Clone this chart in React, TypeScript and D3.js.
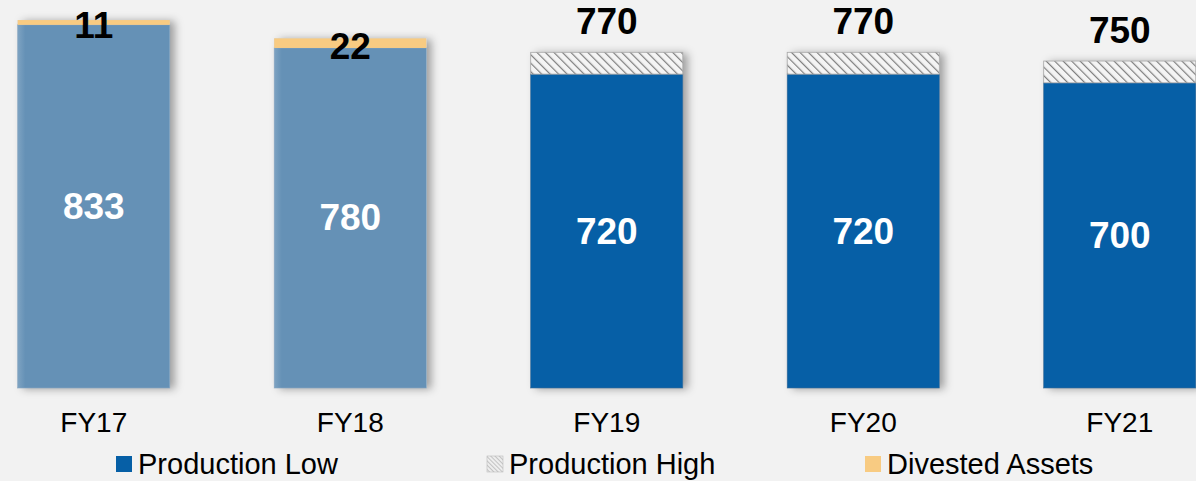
import React from "react";
import * as d3 from "d3";

const categories = ["FY17", "FY18", "FY19", "FY20", "FY21"];
const productionLow = [833, 780, 720, 720, 700];
const productionHigh = [0, 0, 50, 50, 50];
const divested = [11, 22, 0, 0, 0];
const actual = [true, true, false, false, false];
const legendLabels = ["Production Low", "Production High", "Divested Assets"];

const W = 1196;
const H = 481;

export default function App() {
  const x = d3
    .scaleBand<string>()
    .domain(categories)
    .range([-34.5, 1248])
    .paddingInner(0.407)
    .paddingOuter(0.2035);
  const y = d3.scaleLinear().domain([0, 890]).range([388, 0]);
  const bw = x.bandwidth();

  const legendX = [116, 487, 865];

  return (
    <svg
      width={W}
      height={H}
      style={{ position: "absolute", left: 0, top: 0, background: "#f2f2f2" }}
      fontFamily="Arial, 'Liberation Sans', sans-serif"
    >
      <defs>
        <filter id="sh" x="-10%" y="-10%" width="130%" height="120%">
          <feDropShadow dx="5" dy="1" stdDeviation="4" floodColor="#000" floodOpacity="0.35" />
        </filter>
        <pattern id="hatch" width="6" height="6" patternUnits="userSpaceOnUse" patternTransform="rotate(-45)">
          <rect width="6" height="6" fill="#f4f4f4" />
          <line x1="0" y1="0" x2="0" y2="6" stroke="#7e7e7e" strokeWidth="2.4" />
        </pattern>
        <pattern id="hatchS" width="3" height="3" patternUnits="userSpaceOnUse" patternTransform="rotate(-45)">
          <rect width="3" height="3" fill="#eeeeee" />
          <line x1="0" y1="0" x2="0" y2="3" stroke="#999" strokeWidth="1" />
        </pattern>
        <linearGradient id="lg" x1="0" x2="1" y1="0" y2="0">
          <stop offset="0" stopColor="#7ea3c2" />
          <stop offset="0.05" stopColor="#6591b6" />
          <stop offset="1" stopColor="#6591b6" />
        </linearGradient>
      </defs>
      <rect width={W} height={H} fill="#f2f2f2" />
      {categories.map((c, i) => {
        const x0 = x(c)!;
        const lowTop = y(productionLow[i]);
        const highTop = y(productionLow[i] + productionHigh[i]);
        const divTop = y(productionLow[i] + divested[i]);
        const topMost = Math.min(highTop, divTop);
        return (
          <g key={c}>
            <rect x={x0} y={topMost} width={bw} height={y(0) - topMost} fill="#ccc" filter="url(#sh)" />
            <rect
              x={x0}
              y={lowTop}
              width={bw}
              height={y(0) - lowTop}
              fill={actual[i] ? "url(#lg)" : "#065fa6"}
              stroke={actual[i] ? "#8aa9c4" : "#3a6c98"}
              strokeWidth={0.6}
            />
            {productionHigh[i] > 0 && (
              <rect
                x={x0}
                y={highTop}
                width={bw}
                height={lowTop - highTop}
                fill="url(#hatch)"
                stroke="#a8a8a8"
                strokeWidth={0.8}
              />
            )}
            {divested[i] > 0 && (
              <rect x={x0} y={divTop} width={bw} height={lowTop - divTop} fill="#f8cb82" />
            )}
            <text
              x={x0 + bw / 2}
              y={(lowTop + y(0)) / 2}
              textAnchor="middle"
              dominantBaseline="central"
              fill="#fff"
              fontWeight="bold"
              fontSize={37}
            >
              {productionLow[i]}
            </text>
            {productionHigh[i] > 0 && (
              <text
                x={x0 + bw / 2}
                y={highTop - 31}
                textAnchor="middle"
                dominantBaseline="central"
                fill="#000"
                fontWeight="bold"
                fontSize={37}
              >
                {productionLow[i] + productionHigh[i]}
              </text>
            )}
            {divested[i] > 0 && (
              <text
                x={x0 + bw / 2}
                y={(divTop + lowTop) / 2 + 3}
                textAnchor="middle"
                dominantBaseline="central"
                fill="#000"
                fontWeight="bold"
                fontSize={37}
              >
                {divested[i]}
              </text>
            )}
            <text
              x={x0 + bw / 2}
              y={422}
              textAnchor="middle"
              dominantBaseline="central"
              fill="#000"
              fontSize={28}
            >
              {c}
            </text>
          </g>
        );
      })}
      {legendLabels.map((l, i) => (
        <g key={l}>
          <rect
            x={legendX[i]}
            y={456}
            width={16}
            height={16}
            fill={i === 0 ? "#065fa6" : i === 1 ? "url(#hatchS)" : "#f8cb82"}
            stroke={i === 1 ? "#bbb" : "none"}
            strokeWidth={0.6}
          />
          <text x={legendX[i] + 22} y={464} dominantBaseline="central" fontSize={29} fill="#000">
            {l}
          </text>
        </g>
      ))}
    </svg>
  );
}
